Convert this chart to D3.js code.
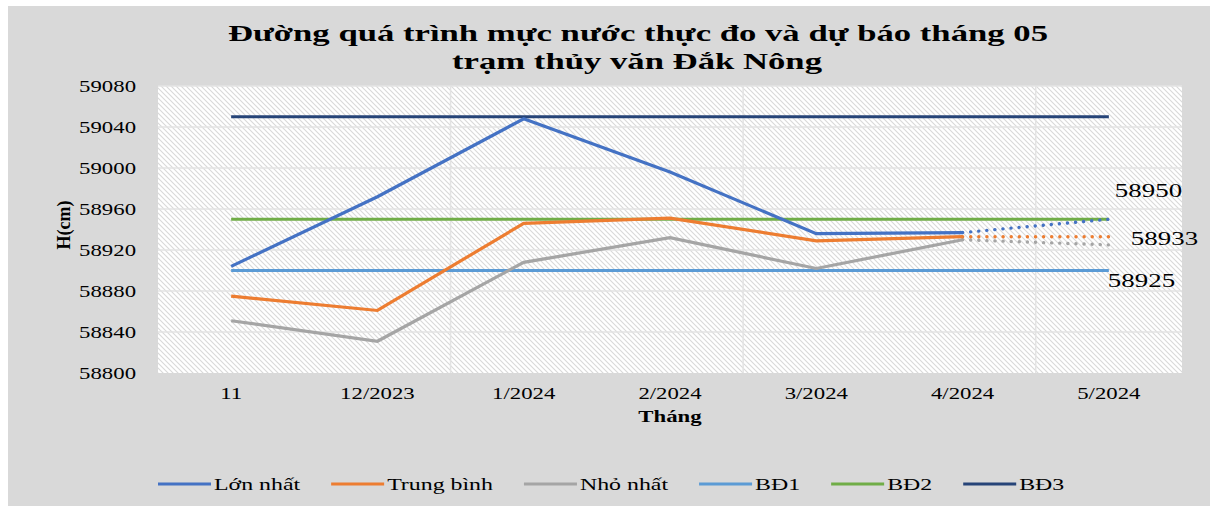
<!DOCTYPE html>
<html>
<head>
<meta charset="utf-8">
<script src="https://cdn.jsdelivr.net/npm/d3@7"></script>
<style>
  body { margin: 0; background: #fff; }
  text { font-family: "Liberation Serif", "DejaVu Serif", serif; fill: #000; }
</style>
</head>
<body>
<div id="chart"></div>
<script>
const months = ["11", "12/2023", "1/2024", "2/2024", "3/2024", "4/2024", "5/2024"];
const maxLevel = [58904, 58972, 59048, 58996, 58936, 58937];
const meanLevel = [58875, 58861, 58946, 58951, 58929, 58933];
const minLevel = [58851, 58831, 58908, 58932, 58902, 58930];
const forecast = [58950, 58933, 58925];   // 5/2024 forecast for max, mean, min
const bd1 = 58900, bd2 = 58950, bd3 = 59050;
const yTicks = [58800, 58840, 58880, 58920, 58960, 59000, 59040, 59080];

const W = 1210, H = 506;
const sx = 1.38;   // the source picture is stretched sideways
const plot = { left: 158, right: 1182, top: 86, bottom: 373 };

const svg = d3.select("#chart").append("svg")
    .attr("width", W)
    .attr("height", H);

const defs = svg.append("defs");
const pat = defs.append("pattern")
    .attr("id", "hatch")
    .attr("patternUnits", "userSpaceOnUse")
    .attr("width", 5)
    .attr("height", 5);
pat.append("rect").attr("width", 5).attr("height", 5).attr("fill", "#fff");
pat.append("path")
    .attr("d", "M-1,-1 L6,6 M-1,4 L1,6 M4,-1 L6,1")
    .attr("stroke", "#d9d9d9")
    .attr("stroke-width", 1.1);

svg.append("rect")
    .attr("x", 8).attr("y", 6)
    .attr("width", W - 8).attr("height", H - 6)
    .attr("fill", "#d9d9d9");

const x = d3.scaleBand().domain(months).range([plot.left, plot.right]);
const cx = m => x(m) + x.bandwidth() / 2;
const y = d3.scaleLinear().domain([58800, 59080]).range([plot.bottom, plot.top]);

svg.append("rect")
    .attr("x", plot.left).attr("y", plot.top)
    .attr("width", plot.right - plot.left).attr("height", plot.bottom - plot.top)
    .attr("fill", "url(#hatch)");

// grid
svg.append("g").selectAll("line").data(yTicks.slice(1)).join("line")
    .attr("x1", plot.left).attr("x2", plot.right)
    .attr("y1", d => y(d)).attr("y2", d => y(d))
    .attr("stroke", "#e3e3e3").attr("stroke-width", 1.5);
svg.append("g").selectAll("line").data([months[2], months[4], months[6]]).join("line")
    .attr("x1", d => x(d)).attr("x2", d => x(d))
    .attr("y1", plot.top).attr("y2", plot.bottom)
    .attr("stroke", "#e3e3e3").attr("stroke-width", 1.5);

// axes
const yAxis = svg.append("g")
    .attr("transform", `translate(${plot.left},0)`)
    .call(d3.axisLeft(y).tickValues(yTicks).tickSize(0).tickFormat(d3.format("d")));
yAxis.select(".domain").remove();
yAxis.selectAll("text")
    .attr("x", -22 / sx)
    .attr("dy", "0.34em")
    .attr("transform", `scale(${sx},1)`)
    .style("font-size", "16.5px")
    .attr("fill", "#000");

const xAxis = svg.append("g")
    .attr("transform", `translate(0,${plot.bottom})`)
    .call(d3.axisBottom(x).tickSize(0));
xAxis.select(".domain").remove();
xAxis.selectAll("text")
    .attr("y", 0)
    .attr("dy", 26)
    .attr("transform", `scale(${sx},1)`)
    .style("font-size", "16.5px")
    .attr("fill", "#000");

function stretched(sel, px, py, str, size, weight, anchor) {
    return sel.append("text")
        .attr("transform", `translate(${px},${py}) scale(${sx},1)`)
        .attr("text-anchor", anchor || "middle")
        .style("font-size", size + "px")
        .style("font-weight", weight || "normal")
        .text(str);
}

stretched(svg, 670, 422, "Tháng", 16.5, "bold");
svg.append("text")
    .attr("transform", "translate(70,225) rotate(-90)")
    .attr("text-anchor", "middle")
    .style("font-size", "18px")
    .style("font-weight", "bold")
    .text("H(cm)");

// title
svg.append("text")
    .attr("x", 638).attr("y", 41)
    .attr("text-anchor", "middle")
    .attr("textLength", 820).attr("lengthAdjust", "spacingAndGlyphs")
    .style("font-size", "23px").style("font-weight", "bold")
    .text("Đường quá trình mực nước thực đo và dự báo tháng 05");
svg.append("text")
    .attr("x", 637).attr("y", 69)
    .attr("text-anchor", "middle")
    .attr("textLength", 370).attr("lengthAdjust", "spacingAndGlyphs")
    .style("font-size", "23px").style("font-weight", "bold")
    .text("trạm thủy văn Đắk Nông");

// lines
const line = d3.line().x(d => cx(d[0])).y(d => y(d[1]));
const observed = months.slice(0, 6);

const series = [
    { name: "Lớn nhất", color: "#4472c4", values: maxLevel, fc: forecast[0] },
    { name: "Trung bình", color: "#ed7d31", values: meanLevel, fc: forecast[1] },
    { name: "Nhỏ nhất", color: "#a5a5a5", values: minLevel, fc: forecast[2] }
];
const refs = [
    { name: "BĐ1", color: "#5b9bd5", value: bd1 },
    { name: "BĐ2", color: "#70ad47", value: bd2 },
    { name: "BĐ3", color: "#264478", value: bd3 }
];

refs.forEach(r => {
    svg.append("path")
        .datum(months.map(m => [m, r.value]))
        .attr("d", line)
        .attr("fill", "none")
        .attr("stroke", r.color)
        .attr("stroke-width", 3.2);
});

series.slice().reverse().forEach(s => {
    svg.append("path")
        .datum([[months[5], s.values[5]], [months[6], s.fc]])
        .attr("d", line)
        .attr("fill", "none")
        .attr("stroke", s.color)
        .attr("stroke-width", 3.4)
        .attr("stroke-linecap", "round")
        .attr("stroke-dasharray", "0.1 8");
    svg.append("path")
        .datum(observed.map((m, i) => [m, s.values[i]]))
        .attr("d", line)
        .attr("fill", "none")
        .attr("stroke", s.color)
        .attr("stroke-width", 3.2);
});

// forecast labels
const labelOffsets = [[6, -22], [22, 8], [-1, 42]];
series.forEach((s, i) => {
    stretched(svg, cx(months[6]) + labelOffsets[i][0], y(s.fc) + labelOffsets[i][1],
        String(s.fc), 19.5, "normal", "start");
});

// legend
const legendItems = series.map(s => ({ name: s.name, color: s.color }))
    .concat(refs.map(r => ({ name: r.name, color: r.color })));
const legend = svg.append("g");
let lx = 158;
legendItems.forEach(it => {
    legend.append("line")
        .attr("x1", lx).attr("x2", lx + 53)
        .attr("y1", 484).attr("y2", 484)
        .attr("stroke", it.color).attr("stroke-width", 3.2);
    const t = stretched(legend, lx + 56, 490, it.name, 17.3, "normal", "start");
    const w = t.node().getComputedTextLength() * sx;
    lx += 56 + w + 31;
});
</script>
</body>
</html>
